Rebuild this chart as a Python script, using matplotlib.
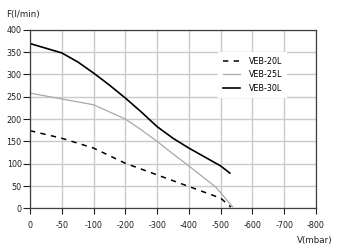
import numpy as np
import matplotlib
matplotlib.use('Agg')
import matplotlib.pyplot as plt

# Kennlinien: Förderstrom F (l/min) über Vakuum V (mbar)
v_20 = [0, -50, -100, -200, -300, -400, -500, -532]
f_20 = [174, 157, 135, 101, 75, 49, 23, 3]

v_25 = [0, -50, -100, -150, -200, -250, -300, -350, -400, -484, -500, -537]
f_25 = [258, 245, 232, 216, 200, 176, 150, 122, 95, 48, 35, 4]

v_30 = [0, -50, -75, -100, -150, -200, -250, -300, -350, -400, -500, -529]
f_30 = [369, 348, 328, 303, 276, 247, 216, 183, 157, 135, 95, 79]

x_ticks = [0, -50, -100, -200, -300, -400, -500, -600, -700, -800]
y_ticks = [0, 50, 100, 150, 200, 250, 300, 350, 400]

# x-Achse ist nicht linear: 0..-100 in 50er Schritten, dann 100er Schritte
_abs = np.array([0, 50, 100, 200, 300, 400, 500, 600, 700, 800], dtype=float)
_pos = np.arange(len(_abs), dtype=float)


def fwd(v):
    return np.interp(-np.asarray(v, dtype=float), _abs, _pos)


def inv(p):
    return -np.interp(np.asarray(p, dtype=float), _pos, _abs)


fig = plt.figure(figsize=(3.4, 2.5), dpi=100)
ax = fig.add_axes([30 / 340, 1 - 208.4 / 250, 286 / 340, 178.7 / 250])
ax.set_xscale('function', functions=(fwd, inv))

ax.plot(v_20, f_20, color='black', lw=1.1, ls=(0, (3.5, 3.5)), label='VEB-20L')
ax.plot(v_25, f_25, color='#a8a8a8', lw=0.9, label='VEB-25L')
ax.plot(v_30, f_30, color='black', lw=1.2, label='VEB-30L')

ax.set_xlim(-800, 0)
ax.set_ylim(0, 400)
ax.set_xticks(x_ticks)
ax.set_xticklabels([str(t) for t in x_ticks])
ax.set_yticks(y_ticks)
ax.xaxis.set_minor_locator(matplotlib.ticker.NullLocator())

ax.grid(True, color='#cacaca', lw=1.0)
ax.set_axisbelow(True)
for s in ax.spines.values():
    s.set_color('#404040')
    s.set_linewidth(0.9)

ax.tick_params(axis='y', direction='out', length=5, width=0.8, pad=1,
               labelsize=5.8, colors='#202020')
ax.tick_params(axis='x', direction='out', length=4, width=0.8, pad=5,
               labelsize=5.8, colors='#202020')

leg = ax.legend(loc='upper left', bbox_to_anchor=(0.657, 0.875),
                borderaxespad=0, fontsize=5.8, frameon=True, fancybox=False,
                handlelength=2.2, handletextpad=1.0, labelspacing=0.55,
                borderpad=0.6)
leg.get_frame().set_edgecolor('none')
leg.get_frame().set_facecolor('white')
leg.get_frame().set_alpha(1)

fig.text(6 / 340, 1 - 15 / 250, 'F(l/min)', ha='left', va='center',
         fontsize=6.3, color='#202020')
fig.text(333 / 340, 1 - 240 / 250, 'V(mbar)', ha='right', va='center',
         fontsize=6.3, color='#202020')

fig.savefig('out.png', dpi=100)
